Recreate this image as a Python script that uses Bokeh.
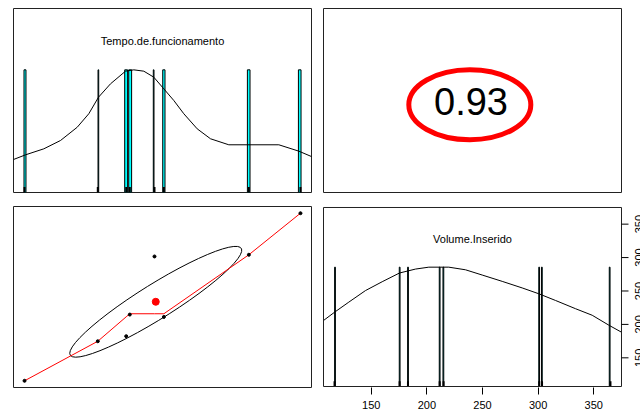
import numpy as np
from bokeh.plotting import figure
from bokeh.layouts import column, row
from bokeh.models import Range1d, FixedTicker, LinearAxis
from bokeh.core.properties import value
from bokeh.embed import file_html
from bokeh.resources import INLINE

# ---------------- data ----------------
var_names = ["Tempo.de.funcionamento", "Volume.Inserido"]
tempo = [10.0, 36.55, 46.85, 48.15, 57.1, 60.5, 91.3, 110.0]
volume = [117.0, 175.5, 183.0, 215.0, 301.0, 211.5, 303.5, 365.0]
correlation = 0.93
correlation_label = "0.93"

tempo_bin_left = [9.80, 36.63, 46.30, 47.75, 56.67, 60.08, 90.77, 109.26]
tempo_bin_right = [10.53, 36.88, 47.36, 48.81, 56.92, 60.91, 91.72, 110.21]
tempo_bin_count = [1, 1, 1, 1, 1, 1, 1, 1]

volume_bin_left = [117.07, 175.18, 182.68, 211.13, 214.46, 300.56, 302.99, 363.93]
volume_bin_right = [117.77, 175.88, 183.38, 211.83, 215.16, 301.26, 303.69, 364.63]
volume_bin_count = [1, 1, 1, 1, 1, 1, 1, 1]

tempo_density_x = [6.0, 10.35, 16.98, 23.04, 29.09, 33.29, 36.81, 41.16, 46.59, 49.60,
                   53.23, 56.85, 60.48, 64.10, 67.72, 72.58, 77.40, 84.03, 102.16,
                   109.41, 114.0]
tempo_density_y = [0.269, 0.307, 0.356, 0.424, 0.532, 0.642, 0.777, 0.886, 0.989, 1.0,
                   0.989, 0.940, 0.845, 0.750, 0.642, 0.519, 0.438, 0.389, 0.389,
                   0.337, 0.293]

volume_density_x = [107.08, 117.24, 129.82, 144.83, 159.84, 175.39, 189.77, 201.72,
                    219.70, 234.71, 249.72, 267.70, 285.67, 300.59, 315.60, 333.58,
                    348.59, 363.51, 374.92]
volume_density_y = [0.553, 0.624, 0.707, 0.804, 0.878, 0.951, 0.984, 1.0,
                    1.0, 0.978, 0.934, 0.881, 0.826, 0.777, 0.721, 0.652,
                    0.597, 0.514, 0.455]

smooth_x = [10.0, 36.55, 46.85, 48.15, 57.1, 60.5, 91.3, 110.0]
smooth_y = [117.0, 175.5, 211.7, 216.2, 216.2, 216.2, 303.5, 365.0]

volume_ticks = [150, 200, 250, 300, 350]

FONT = value("Liberation Sans")


def padded(v):
    lo, hi = min(v), max(v)
    d = 0.04 * (hi - lo)
    return lo - d, hi + d


tx0, tx1 = padded(tempo)
vx0, vx1 = padded(volume)
HMAX = 1.5
TITLE_Y = 0.825 * HMAX


def base_fig(w, h, xr, yr, bl, br, bt, bb, outline=True):
    f = figure(width=w, height=h, x_range=xr, y_range=yr, toolbar_location=None,
               output_backend="svg", x_axis_location=None, y_axis_location=None,
               min_border_left=bl, min_border_right=br, min_border_top=bt,
               min_border_bottom=bb, background_fill_color="white",
               border_fill_color="white")
    f.xgrid.grid_line_color = None
    f.ygrid.grid_line_color = None
    if outline:
        f.outline_line_color = "#222222"
        f.outline_line_width = 1
    else:
        f.outline_line_color = None
    return f


# ---------------- top-left: histogram of Tempo ----------------
f1 = base_fig(317, 199, Range1d(tx0, tx1), Range1d(0, HMAX), 13, 6, 8, 7)
tmax = max(tempo_bin_count)
f1.quad(left=tempo_bin_left, right=tempo_bin_right, bottom=0,
        top=[c / tmax for c in tempo_bin_count],
        fill_color="#00FFFF", line_color="black", line_width=1)
f1.line(tempo_density_x, tempo_density_y, line_color="black", line_width=1)
f1.segment(x0=tempo, x1=tempo, y0=0, y1=0.03 * HMAX, line_color="black", line_width=2)
f1.text(x=[(tx0 + tx1) / 2], y=[TITLE_Y], text=[var_names[0]], text_font=FONT,
        text_font_size="11px", text_align="center", text_baseline="middle",
        text_color="black")

# ---------------- top-right: correlation ----------------
f2 = base_fig(323, 199, Range1d(0, 1), Range1d(0, 1), 6, 19, 8, 7)
f2.text(x=[0.495], y=[0.492], text=[correlation_label], text_font=FONT,
        text_font_size="38px", text_align="center", text_baseline="middle",
        text_color="black")
f2.ellipse(x=[0.491], y=[0.477], width=122, height=70, width_units="screen",
           height_units="screen", fill_color=None, line_color="#FF0000", line_width=5)

# ---------------- bottom-left: scatter ----------------
f3 = base_fig(317, 216, Range1d(tx0, tx1), Range1d(vx0, vx1), 13, 6, 7, 28)
tx = np.array(tempo)
vy = np.array(volume)
mx, my = tx.mean(), vy.mean()
sx, sy = tx.std(ddof=1), vy.std(ddof=1)
r = correlation
seg = 51
ang = np.arange(seg + 1) * 2 * np.pi / seg
th = np.sign(r) / np.sqrt(2)
a, b = np.sqrt(1 + r), np.sqrt(1 - r)
ex = (np.cos(ang) * a * th - np.sin(ang) * b * th) * sx + mx
ey = (np.cos(ang) * a * th + np.sin(ang) * b * th) * sy + my
f3.line(ex, ey, line_color="black", line_width=1)
f3.line(smooth_x, smooth_y, line_color="#FF0000", line_width=1)
f3.scatter(tempo, volume, size=3, color="black")
f3.scatter([mx], [my], size=7, color="#FF0000")

# ---------------- bottom-right: histogram of Volume + axes ----------------
ux = (vx1 - vx0) / 298.0
uh = HMAX / 181.0
uv = (vx1 - vx0) / 181.0
f4 = base_fig(323, 216, Range1d(vx0 - ux, vx1 + 19 * ux), Range1d(-uh, HMAX + uh),
              5, 0, 6, 27, outline=False)
f4.extra_y_ranges = {"vol": Range1d(vx0 - uv, vx1 + uv)}
vmax = max(volume_bin_count)
f4.quad(left=volume_bin_left, right=volume_bin_right, bottom=0,
        top=[c / vmax for c in volume_bin_count],
        fill_color="#00FFFF", line_color="black", line_width=1)
f4.line(volume_density_x, volume_density_y, line_color="black", line_width=1)
f4.segment(x0=volume, x1=volume, y0=0, y1=0.03 * HMAX, line_color="black", line_width=2)
f4.quad(left=[vx0], right=[vx1], bottom=[0], top=[HMAX], fill_color=None,
        line_color="#222222", line_width=1)
f4.text(x=[(vx0 + vx1) / 2], y=[TITLE_Y], text=[var_names[1]], text_font=FONT,
        text_font_size="11px", text_align="center", text_baseline="middle",
        text_color="black")
# right axis (volume scale) drawn by hand so that it can run off the page edge
f4.segment(x0=[vx1] * len(volume_ticks), x1=[vx1 + 7 * ux] * len(volume_ticks),
           y0=volume_ticks, y1=volume_ticks, y_range_name="vol",
           line_color="black", line_width=1)
f4.text(x=[vx1 + 13.5 * ux] * len(volume_ticks), y=volume_ticks,
        text=[str(t) for t in volume_ticks], angle=np.pi / 2, y_range_name="vol",
        text_font=FONT, text_font_size="11px", text_align="center",
        text_baseline="top", text_color="black")

ax = LinearAxis(ticker=FixedTicker(ticks=volume_ticks))
ax.axis_line_color = None
ax.major_tick_in = 0
ax.major_tick_out = 7
ax.major_tick_line_color = "black"
ax.minor_tick_line_color = None
ax.major_label_text_font = "Liberation Sans"
ax.major_label_text_font_size = "11px"
ax.major_label_text_color = "black"
ax.major_label_standoff = 6
f4.add_layout(ax, "below")

layout = column(row(f1, f2), row(f3, f4))
open("out.html", "w").write(file_html(layout, INLINE))
